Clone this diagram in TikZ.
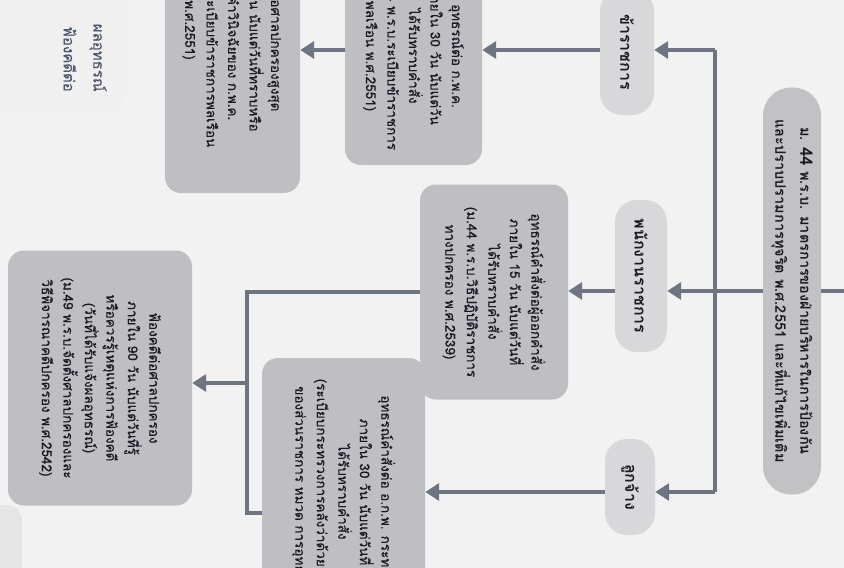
\documentclass[tikz,border=0pt]{standalone}
\usepackage{fontspec}
\newfontfamily\thai[Script=Thai]{Loma}
\newfontfamily\thaimed[Script=Thai,FakeBold=0.5]{Loma}
\usetikzlibrary{arrows.meta}
\definecolor{bg}{HTML}{F2F2F2}
\definecolor{boxc}{HTML}{BFBFC3}
\definecolor{catc}{HTML}{D8D8DB}
\definecolor{mainc}{HTML}{C2C2C5}
\definecolor{arrc}{HTML}{6E7581}
\definecolor{txt}{HTML}{1A1A24}
\definecolor{faint}{HTML}{4E5570}
\begin{document}
\begin{tikzpicture}[x=1pt,y=-1pt,
  rbox/.style={rotate=-90, inner sep=0pt, align=center, text=txt},
  content/.style={rbox, fill=boxc, rounded corners=16pt, font=\thaimed\fontsize{13.5}{21.5}\selectfont},
  catbox/.style={rbox, fill=catc, rounded corners=22pt, font=\thai\bfseries\fontsize{16}{20}\selectfont},
  mainbox/.style={rbox, fill=mainc, rounded corners=28pt, font=\thai\bfseries\fontsize{14.5}{25}\selectfont},
  conn/.style={draw=arrc, line width=4pt},
  arr/.style={conn, -{Triangle[width=17pt,length=14pt]}},
  fainttext/.style={rotate=-90, inner sep=0pt, text=faint, font=\thaimed\fontsize{15}{21}\selectfont}
]
\useasboundingbox (0,0) rectangle (844,568);
\fill[bg] (0,0) rectangle (844,568);
\clip (0,0) rectangle (844,568);

% faint partial shapes at the left edge
\fill[black!6, rounded corners=18pt] (-40,-100) rectangle (126,112);
\fill[black!10, rounded corners=15pt] (-40,505) rectangle (22,600);
\node[fainttext, anchor=east] (f1) at (98,92) {ผลอุทธรณ์};
\node[fainttext, anchor=east] (f2) at (70,92) {ฟ้องคดีต่อ};

% main box
\node[mainbox, minimum width=407pt, minimum height=58pt] (main) at (792,291)
  {ม. {\fontsize{17}{25}\selectfont 44} พ.ร.บ. มาตรการของฝ่ายบริหารในการป้องกัน\\และปราบปรามการทุจริต พ.ศ.2551 และที่แก้ไขเพิ่มเติม};

% categories
\node[catbox, minimum width=126pt, minimum height=54pt] (kc) at (627,52) {ข้าราชการ};
\node[catbox, minimum width=152pt, minimum height=52pt] (pn) at (641,276) {พนักงานราชการ};
\node[catbox, minimum width=96pt, minimum height=50pt] (lj) at (630,487) {ลูกจ้าง};

% content boxes
\node[content, minimum width=218pt, minimum height=137pt] (t1) at (413.5,56)
  {อุทธรณ์ต่อ ก.พ.ค.\\ภายใน 30 วัน นับแต่วัน\\ได้รับทราบคำสั่ง\\(ม.114 พ.ร.บ.ระเบียบข้าราชการ\\พลเรือน พ.ศ.2551)};
\node[content, minimum width=326pt, minimum height=135pt] (t2) at (232.5,30)
  {ฟ้องคดีต่อศาลปกครองสูงสุด\\ภายใน 90 วัน นับแต่วันที่ทราบหรือ\\ควรทราบคำวินิจฉัยของ ก.พ.ค.\\(ม.122 พ.ร.บ.ระเบียบข้าราชการพลเรือน\\พ.ศ.2551)};
\node[content, minimum width=215pt, minimum height=148pt] (a1) at (494,292)
  {อุทธรณ์คำสั่งต่อผู้ออกคำสั่ง\\ภายใน 15 วัน นับแต่วันที่\\ได้รับทราบคำสั่ง\\(ม.44 พ.ร.บ.วิธีปฏิบัติราชการ\\ทางปกครอง พ.ศ.2539)};
\node[content, minimum width=268pt, minimum height=163pt] (a2) at (343.5,492)
  {อุทธรณ์คำสั่งต่อ อ.ก.พ. กระทรวง\\ภายใน 30 วัน นับแต่วันที่\\ได้รับทราบคำสั่ง\\(ระเบียบกระทรวงการคลังว่าด้วยลูกจ้าง\\ของส่วนราชการ หมวด การอุทธรณ์)};
\node[content, minimum width=255pt, minimum height=184pt] (b) at (100,378)
  {ฟ้องคดีต่อศาลปกครอง\\ภายใน 90 วัน นับแต่วันที่รู้\\หรือควรรู้เหตุแห่งการฟ้องคดี\\(วันที่ได้รับแจ้งผลอุทธรณ์)\\(ม.49 พ.ร.บ.จัดตั้งศาลปกครองและ\\วิธีพิจารณาคดีปกครอง พ.ศ.2542)};

% connectors
\coordinate (inR) at (860,291);
\coordinate (sp) at (715,291);
\coordinate (spT) at (715,50);
\coordinate (spB) at (715,492);
\coordinate (bT) at (247,292);
\coordinate (bM) at (247,383);
\coordinate (bB) at (247,513);

\draw[conn] (main.north) -- (inR);
\draw[conn] (main.south) -- (sp);
\draw[conn] (spT) -- (spB);
\draw[arr] (spT) -- (kc.north |- spT);
\draw[arr] (sp) -- (pn.north |- sp);
\draw[arr] (spB) -- (lj.north |- spB);
\draw[arr] (kc.south |- spT) -- (t1.north |- spT);
\draw[arr] (t1.south |- spT) -- (t2.north |- spT);
\draw[arr] (pn.south |- sp) -- (a1.north |- sp);
\draw[arr] (lj.south |- spB) -- (a2.north |- spB);
\draw[conn, line join=miter] (a1.south |- bT) -- (bT) -- (bB) -- (a2.south |- bB);
\draw[arr] (bM) -- (b.north |- bM);
\end{tikzpicture}
\end{document}
